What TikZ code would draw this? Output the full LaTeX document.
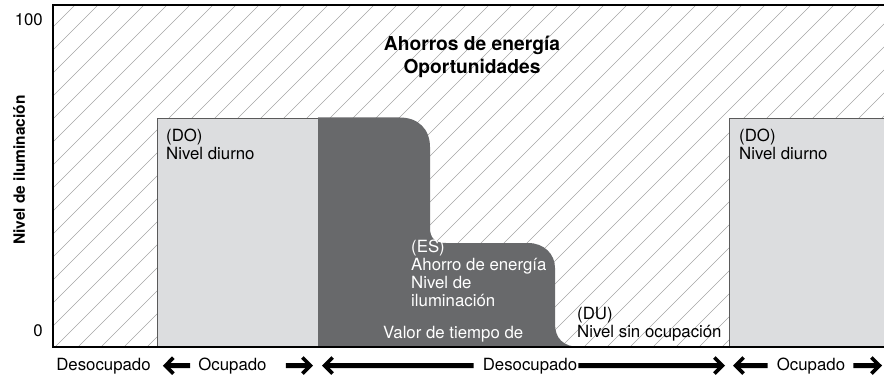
\documentclass[tikz,border=0pt]{standalone}
\usepackage{fontspec}
\setmainfont{TeX Gyre Heros}
\usepackage{tikz}
\usetikzlibrary{
  arrows.meta, positioning, calc
}
\usepackage{xcolor}
\definecolor{daylight}{RGB}{220, 221, 223}
\definecolor{savegray}{RGB}{104, 105, 107}
\definecolor{hatchgray}{RGB}{165, 165, 165}
\definecolor{boxedge}{RGB}{90, 90, 90}

\begin{document}
\begin{tikzpicture}[x=1pt, y=-1pt,
    lbl/.style={font=\fontsize{16.8}{18}\selectfont, inner sep=0pt, align=left},
    titlelbl/.style={font=\fontsize{19.2}{23}\selectfont\bfseries, inner sep=0pt, align=center},
    occarrow/.style={line width=5pt,
      -{Straight Barb[length=8pt, width=16pt, line width=3.6pt]}}
  ]
  \useasboundingbox (0,0) rectangle (884,377);

  % hatched background
  \begin{scope}
    \clip (53,5) rectangle (884,347);
    \foreach \x in {-290,-267,...,884}
      \draw[hatchgray, line width=0.6pt] (\x,347) -- ++(342,-342);
  \end{scope}

  % daylight boxes
  \draw[fill=daylight, draw=boxedge, line width=0.7pt]
    (157,347) -- (157,118) -- (318,118) -- (318,347);
  \draw[fill=daylight, draw=boxedge, line width=0.7pt]
    (729,347) -- (729,118) -- (890,118) -- (890,347);

  % energy saving step
  \fill[savegray] (318,347) -- (318,117.5) -- (400,117.5)
    .. controls (418,117.5) and (430,129) .. (430,147) -- (430,228)
    .. controls (430,238) and (435,243) .. (446,243) -- (528,243)
    .. controls (544,243) and (555,254) .. (555,268) -- (555,324)
    .. controls (555,338) and (563,347) .. (580,347) -- cycle;

  % axes
  \draw[line width=2.6pt] (886,5) -- (53,5) -- (53,347) -- (886,347);

  \node[lbl, anchor=base east] (ymax) at (43,26) {100};
  \node[lbl, anchor=base east] (ymin) at (43,336) {0};
  \node[rotate=90, font=\fontsize{15.5}{17}\selectfont\bfseries, inner sep=0pt]
    (ylabel) at (19,170) {Nivel de iluminación};

  \node[titlelbl, anchor=north] (title) at (472,36)
    {Ahorros de energía\\Oportunidades};

  \node[lbl, anchor=north west] (do1) at (166,129) {(DO)\\Nivel diurno};
  \node[lbl, anchor=north west] (do2) at (739,129) {(DO)\\Nivel diurno};
  \node[lbl, anchor=north west, text=white] (es) at (411,240)
    {(ES)\\Ahorro de energía\\Nivel de\\iluminación};
  \node[lbl, anchor=base west, text=white] (delay) at (383,338)
    {Valor de tiempo de};
  \node[lbl, anchor=north west] (du) at (577,307)
    {(DU)\\Nivel sin ocupación};

  % occupancy states
  \node[lbl, anchor=base] (des1) at (103.5,370) {Desocupado};
  \node[lbl, anchor=base] (ocu1) at (232.5,370) {Ocupado};
  \node[lbl, anchor=base] (des2) at (530,370) {Desocupado};
  \node[lbl, anchor=base] (ocu2) at (811,370) {Ocupado};
  \coordinate (b1) at (318,365.5);
  \coordinate (b2) at (729,365.5);
  \coordinate (b3) at (884,365.5);

  \draw[occarrow, shorten <=8pt, shorten >=12pt] (ocu1.west) -- (des1.east);
  \draw[occarrow, shorten <=19pt, shorten >=5pt] (ocu1.east) -- (b1);
  \draw[occarrow, shorten <=9pt, shorten >=4pt] (des2.west) -- (b1);
  \draw[occarrow, shorten <=1pt, shorten >=4pt] (des2.east) -- (b2);
  \draw[occarrow, shorten <=9pt, shorten >=4pt] (ocu2.west) -- (b2);
  \draw[occarrow, shorten <=8pt, shorten >=2pt] (ocu2.east) -- (b3);
\end{tikzpicture}
\end{document}
